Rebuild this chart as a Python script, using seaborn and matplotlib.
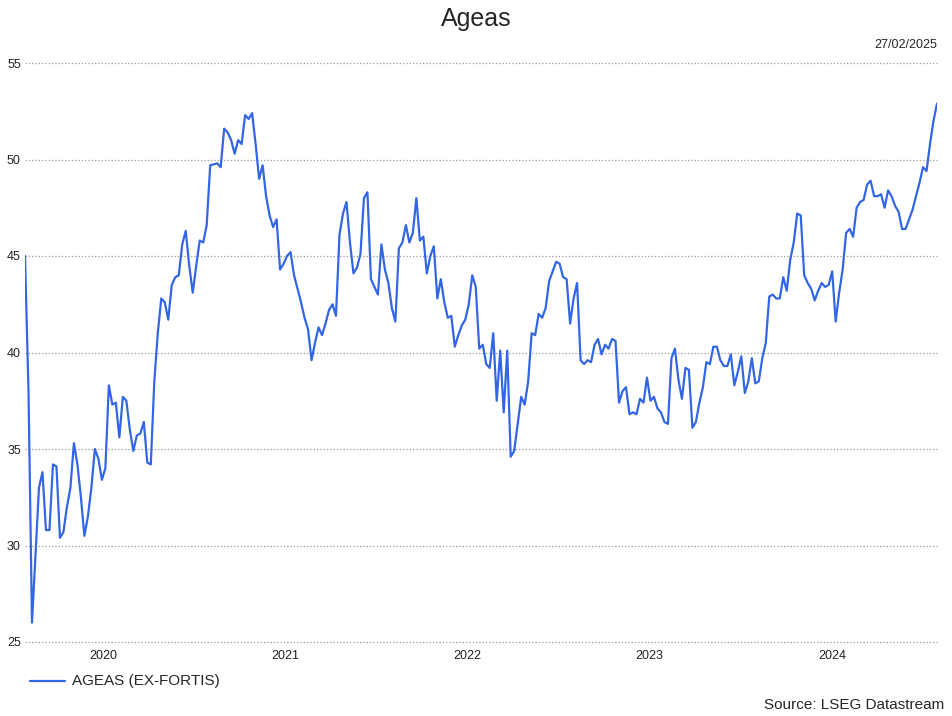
import pandas as pd
import numpy as np
import matplotlib.pyplot as plt
import seaborn as sns

sns.set_style("white")
plt.rcParams['font.family'] = ['Liberation Sans', 'DejaVu Sans']

# weekly closing prices
prices = [45, 38, 26, 29.5, 33, 33.8, 30.8, 30.8, 34.2, 34.1, 30.4, 30.7, 32, 33, 35.3, 34.2,
          32.5, 30.5, 31.5, 33, 35, 34.5, 33.4, 34, 38.3, 37.3, 37.4, 35.6, 37.7, 37.5, 36, 34.9,
          35.7, 35.8, 36.4, 34.3, 34.2, 38.5, 41, 42.8, 42.6, 41.7, 43.5, 43.9, 44, 45.6, 46.3,
          44.5, 43.1, 44.5, 45.8, 45.7, 46.6, 49.7, 49.75, 49.8, 49.6, 51.6, 51.4, 51, 50.3, 51,
          50.8, 52.3, 52.1, 52.4, 50.8, 49, 49.7, 48.1, 47.1, 46.5, 46.9, 44.3, 44.6, 45, 45.2,
          44, 43.3, 42.6, 41.8, 41.2, 39.6, 40.5, 41.3, 40.9, 41.5, 42.2, 42.5, 41.9, 46.1, 47.2,
          47.8, 45.7, 44.1, 44.4, 45.1, 48, 48.3, 43.8, 43.4, 43, 45.6, 44.3, 43.6, 42.3, 41.6,
          45.4, 45.7, 46.6, 45.7, 46.2, 48, 45.8, 46, 44.1, 45, 45.5, 42.8, 43.8, 42.6, 41.8,
          41.9, 40.3, 40.9, 41.4, 41.7, 42.5, 44, 43.4, 40.2, 40.4, 39.4, 39.2, 41, 37.5, 40.1,
          36.9, 40.1, 34.6, 34.9, 36.3, 37.7, 37.3, 38.5, 41, 40.9, 42, 41.8, 42.3, 43.7, 44.2,
          44.7, 44.6, 43.9, 43.8, 41.5, 42.8, 43.6, 39.6, 39.4, 39.6, 39.5, 40.4, 40.7, 39.9,
          40.4, 40.2, 40.7, 40.6, 37.4, 38, 38.2, 36.8, 36.9, 36.8, 37.6, 37.4, 38.7, 37.5, 37.7,
          37.1, 36.9, 36.4, 36.3, 39.7, 40.2, 38.6, 37.6, 39.2, 39.1, 36.1, 36.4, 37.4, 38.2,
          39.5, 39.4, 40.3, 40.3, 39.6, 39.3, 39.3, 39.9, 38.3, 39, 39.8, 37.9, 38.5, 39.7, 38.4,
          38.5, 39.7, 40.5, 42.9, 43, 42.8, 42.8, 43.9, 43.2, 44.8, 45.7, 47.2, 47.1, 44, 43.6,
          43.3, 42.7, 43.2, 43.6, 43.4, 43.5, 44.2, 41.6, 43.1, 44.3, 46.2, 46.4, 46, 47.5, 47.8,
          47.9, 48.7, 48.9, 48.1, 48.1, 48.2, 47.5, 48.4, 48.1, 47.6, 47.3, 46.4, 46.4, 46.9,
          47.4, 48.1, 48.8, 49.6, 49.4, 50.8, 52, 52.9]
years = [2020, 2021, 2022, 2023, 2024]
y_ticks = [25, 30, 35, 40, 45, 50, 55]

dates = pd.date_range(end="2025-02-27", periods=len(prices), freq="7D")
df = pd.DataFrame({"date": dates, "AGEAS (EX-FORTIS)": prices})

fig = plt.figure(figsize=(9.53, 7.16), dpi=100)
ax = fig.add_axes([25 / 953, 1 - 642 / 716, 912 / 953, 579 / 716])
sns.lineplot(data=df, x="date", y="AGEAS (EX-FORTIS)", ax=ax, color="#3366e6",
             linewidth=1.6, label="AGEAS (EX-FORTIS)", legend=False)

ax.set_xlim(dates[0], dates[-1])
ax.set_ylim(25, 55)
ax.set_yticks(y_ticks)
ax.set_xticks([pd.Timestamp(f"{y}-08-01") for y in years])
ax.set_xticklabels([str(y) for y in years])
ax.tick_params(axis="both", length=0, labelsize=9, colors="#222222")
ax.tick_params(axis="x", pad=6)
ax.tick_params(axis="y", pad=3)
ax.grid(axis="y", linestyle=":", color="#999999", linewidth=0.9)
for gl in ax.get_ygridlines():
    gl.set_clip_on(False)
for s in ax.spines.values():
    s.set_visible(False)
ax.set_xlabel("")
ax.set_ylabel("")

fig.text(0.5, 0.99, "Ageas", ha="center", va="top", fontsize=18)
fig.text(937 / 953, 1 - 45 / 716, "27/02/2025", ha="right", va="center", fontsize=9)
fig.text(0.991, 1 - 705 / 716, "Source: LSEG Datastream", ha="right", va="center", fontsize=11)
fig.lines.append(plt.Line2D([30 / 953, 65 / 953], [1 - 681 / 716] * 2, color="#3366e6",
                            linewidth=1.6, transform=fig.transFigure))
fig.text(72 / 953, 1 - 681 / 716, "AGEAS (EX-FORTIS)", ha="left", va="center", fontsize=11)

fig.savefig("out.png", dpi=100)
